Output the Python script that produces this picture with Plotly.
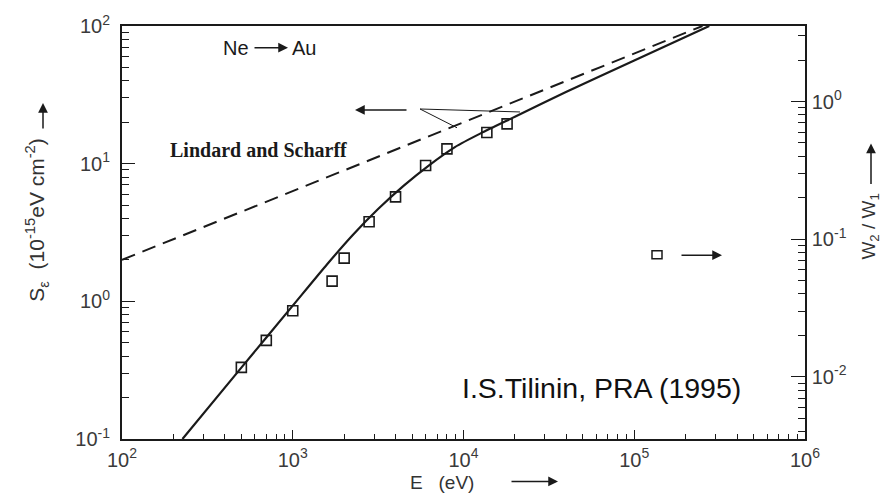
import plotly.graph_objects as go

# ---------------- data ----------------
# theory curve (solid), left axis: S_eps in 1e-15 eV cm^2
E_theory = [226, 500, 1000, 1590, 2240, 3160, 4470, 6310, 8910, 12600, 20000, 39800, 100000, 275000]
S_theory = [0.10, 0.33, 0.93, 1.86, 3.02, 4.68, 6.92, 9.77, 13.2, 16.6, 21.9, 33.1, 56.1, 100.0]

# Lindhard & Scharff (dashed), left axis
E_ls = [100, 251000]
S_ls = [2.0, 100.0]

# measured W2/W1 (open squares), right axis
E_exp = [500, 700, 1000, 1700, 2000, 2800, 4000, 6000, 8000, 13700, 18000]
W_ratio = [0.0117, 0.0184, 0.0302, 0.0496, 0.0728, 0.134, 0.203, 0.343, 0.453, 0.596, 0.688]

x_tick_vals = [1e2, 1e3, 1e4, 1e5, 1e6]
x_tick_text = ["10<sup>2</sup>", "10<sup>3</sup>", "10<sup>4</sup>", "10<sup>5</sup>", "10<sup>6</sup>"]
y_tick_vals = [0.1, 1, 10, 100]
y_tick_text = ["10<sup>-1</sup>", "10<sup>0</sup>", "10<sup>1</sup>", "10<sup>2</sup>"]
y2_tick_vals = [0.01, 0.1, 1]
y2_tick_text = ["10<sup>-2</sup>", "10<sup>-1</sup>", "10<sup>0</sup>"]

# ---------------- layout helpers ----------------
W, H = 884, 493
L, R, T, B = 122, 79, 21, 54
PW, PH = W - L - R, H - T - B


def px(x):
    return (x - L) / PW


def py(y):
    return (H - B - y) / PH


def minor_vals(lo, hi):
    out = []
    for d in range(lo, hi):
        for m in range(2, 10):
            out.append(m * 10.0 ** d)
    return out


INK = "#1a1a1a"
TICKFONT = dict(family="Liberation Sans, Arial, sans-serif", size=20, color="#3a3a3a")

fig = go.Figure()
fig.add_trace(go.Scatter(x=E_ls, y=S_ls, mode="lines",
                         line=dict(color=INK, width=2, dash="14px,8px"),
                         showlegend=False, hoverinfo="skip"))
fig.add_trace(go.Scatter(x=E_theory, y=S_theory, mode="lines",
                         line=dict(color=INK, width=2.2, shape="spline", smoothing=0.6),
                         showlegend=False, hoverinfo="skip"))
fig.add_trace(go.Scatter(x=E_exp, y=W_ratio, mode="markers", yaxis="y2",
                         marker=dict(symbol="square-open", size=10, color=INK,
                                     line=dict(width=1.6, color=INK)),
                         showlegend=False, hoverinfo="skip"))

fig.update_layout(
    width=W, height=H,
    margin=dict(l=L, r=R, t=T, b=B, pad=0),
    paper_bgcolor="white", plot_bgcolor="white",
    xaxis=dict(type="log", range=[2, 6], showgrid=False, zeroline=False,
               showline=True, linecolor=INK, linewidth=1.5, mirror=True,
               ticks="inside", ticklen=9, tickwidth=1.3, tickcolor=INK,
               tickvals=x_tick_vals, ticktext=x_tick_text, tickfont=TICKFONT,
               ticklabelstandoff=2,
               minor=dict(tickvals=minor_vals(2, 6), ticks="inside", ticklen=5,
                          tickwidth=1, tickcolor=INK, showgrid=False)),
    yaxis=dict(type="log", range=[-1, 2], showgrid=False, zeroline=False,
               showline=True, linecolor=INK, linewidth=2,
               ticks="inside", ticklen=13, tickwidth=1.3, tickcolor=INK,
               tickvals=y_tick_vals, ticktext=y_tick_text, tickfont=TICKFONT,
               ticklabelstandoff=6,
               minor=dict(tickvals=minor_vals(-1, 2), ticks="inside", ticklen=7,
                          tickwidth=1, tickcolor=INK, showgrid=False)),
    yaxis2=dict(type="log", range=[-2.452, 0.549], overlaying="y", side="right",
                showgrid=False, zeroline=False,
                showline=True, linecolor=INK, linewidth=1.5,
                ticks="inside", ticklen=14, tickwidth=1.3, tickcolor=INK,
                tickvals=y2_tick_vals, ticktext=y2_tick_text, tickfont=TICKFONT,
                ticklabelstandoff=1,
                minor=dict(tickvals=minor_vals(-3, 1), ticks="inside", ticklen=7,
                           tickwidth=1, tickcolor=INK, showgrid=False)),
)

SANS = "Liberation Sans, Arial, sans-serif"
ann = []


def text(t, x, y, size, xanchor="left", font=SANS, color=INK, angle=0, bold=False):
    ann.append(dict(text=t, x=px(x), y=py(y), xref="paper", yref="paper",
                    xanchor=xanchor, yanchor="middle", showarrow=False,
                    textangle=angle,
                    font=dict(family=font, size=size, color=color,
                              weight="bold" if bold else "normal")))


def arrow(hx, hy, tx, ty, width=1.5, size=1.3):
    ann.append(dict(text="", x=px(hx), y=py(hy), xref="paper", yref="paper",
                    ax=tx - hx, ay=ty - hy, axref="pixel", ayref="pixel",
                    showarrow=True, arrowhead=2, arrowsize=size, arrowwidth=width,
                    arrowcolor=INK, standoff=0, startstandoff=0))


NB = "\u00a0"
text("Ne", 221, 43, 20)
arrow(288, 43, 253, 43)
text("Au", 290, 43, 20)
text("Lindard and Scharff", 168, 146, 20, font="Liberation Serif, Times New Roman, serif", bold=True)
arrow(355, 106, 408, 106)
arrow(722, 253, 680, 253)
text("I.S.Tilinin, PRA (1995)", 460, 387, 28.5, color="#111111")

# axis titles
text("S<sub>ε</sub>" + NB * 2 + "(10<sup>-15</sup>eV" + NB + "cm<sup>-2</sup>)", 37, 218, 21,
     xanchor="center", angle=-90, color="#333333")
arrow(43, 99, 43, 126)
text("W<sub>2</sub>" + NB + "/" + NB + "W<sub>1</sub>", 870, 224, 19, xanchor="center",
     angle=-90, color="#333333")
arrow(871, 140, 871, 182)
text("E" + NB * 3 + "(eV)", 442, 483, 19, xanchor="center", color="#333333")
arrow(558, 482, 510, 482)

fig.update_layout(annotations=ann)

shapes = [
    dict(type="line", xref="paper", yref="paper", x0=px(420), y0=py(105), x1=px(457), y1=py(124),
         line=dict(color=INK, width=1)),
    dict(type="line", xref="paper", yref="paper", x0=px(420), y0=py(105), x1=px(520), y1=py(108),
         line=dict(color=INK, width=1)),
    dict(type="rect", xref="paper", yref="paper", x0=px(652), y0=py(248.5), x1=px(662), y1=py(256.5),
         line=dict(color=INK, width=1.5)),
]
fig.update_layout(shapes=shapes)

fig.write_html("out.html")
